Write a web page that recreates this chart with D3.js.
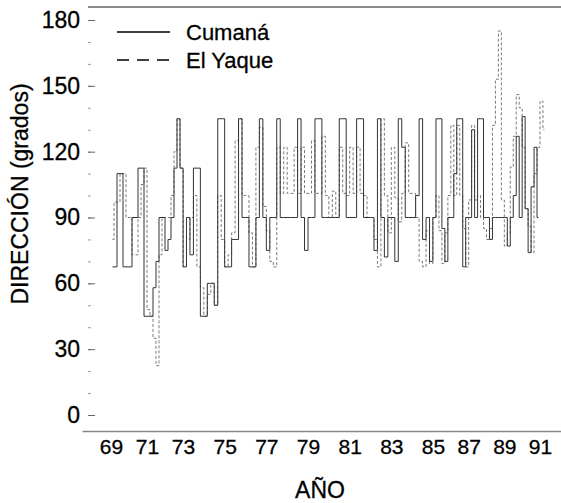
<!DOCTYPE html>
<html>
<head>
<meta charset="utf-8">
<script src="https://cdn.jsdelivr.net/npm/d3@7"></script>
<style>
  body { margin: 0; background: #fff; }
  svg { display: block; font-family: "Liberation Sans", Arial, sans-serif; }
  text { stroke: #000; stroke-width: 0.3px; }
</style>
</head>
<body>
<div id="chart"></div>
<script>
// wind direction, 6 readings per year starting in 1969
const startYear = 69
const perYear = 6
const yearTicks = [69, 71, 73, 75, 77, 79, 81, 83, 85, 87, 89, 91]
const dirTicks = [0, 30, 60, 90, 120, 150, 180]
const seriesNames = ["Cumaná", "El Yaque"]

const cumana = [
  67.5, 67.5, 110, 110, 67.5, 67.5,   // 69
  67.5, 90, 90, 112.5, 112.5, 45,     // 70
  45, 45, 58, 70, 90, 90,             // 71
  75, 80, 90, 112.5, 135, 112.5,      // 72
  67.5, 90, 73, 112.5, 112.5, 45,     // 73
  45, 60, 60, 50, 135, 135,           // 74
  67.5, 67.5, 80, 80, 135, 90,        // 75
  90, 67.5, 67.5, 90, 135, 90,        // 76
  75, 90, 90, 135, 90, 90,            // 77
  90, 90, 90, 135, 90, 75,            // 78
  90, 90, 135, 135, 90, 90,           // 79
  90, 90, 90, 135, 135, 90,           // 80
  90, 90, 135, 135, 90, 90,           // 81
  90, 75, 135, 90, 72, 90,            // 82
  90, 70, 135, 122, 90, 90,           // 83
  90, 100, 135, 80, 90, 70,           // 84
  90, 135, 135, 85, 70, 90,           // 85
  90, 110, 135, 135, 67.5, 90,        // 86
  90, 130, 90, 135, 135, 90,          // 87
  90, 80, 90, 90, 90, 90,             // 88
  90, 77, 90, 100, 127, 90,           // 89
  136, 94, 74, 104, 122, 90           // 90
]

const elYaque = [
  80, 97, 97, 110, 110, 90,           // 69
  90, 73, 73, 90, 105, 112.5,         // 70
  48, 45, 35, 22.5, 73, 90,           // 71
  90, 90, 100, 120, 135, 112.5,       // 72
  67.5, 80, 90, 100, 67.5, 58,        // 73
  45, 55, 60, 50, 100, 80,            // 74
  67.5, 73, 83, 125, 135, 100,        // 75
  100, 83, 67.5, 122, 131, 95,        // 76
  84, 70, 67.5, 122, 101, 122,        // 77
  101, 101, 122, 101, 122, 101,       // 78
  101, 125, 101, 101, 127, 100,       // 79
  90, 102, 90, 122, 101, 100,         // 80
  122, 101, 122, 101, 100, 90,        // 81
  90, 80, 67.5, 135, 100, 83,         // 82
  122, 99, 88, 101, 124, 101,         // 83
  101, 90, 70, 67.5, 84, 69,          // 84
  90, 100, 84, 69, 83, 100,           // 85
  132, 100, 132, 100, 85, 67.5,       // 86
  98, 132, 98, 100, 90, 85,           // 87
  80, 85, 132, 153, 175, 98,          // 88
  77, 83, 113, 127, 146, 140,         // 89
  122, 94, 86, 74, 110, 122,          // 90
  143, 130                            // 91
]

const width = 561
const height = 503

const svg = d3.select("#chart").append("svg")
  .attr("width", width)
  .attr("height", height)

// the printed year axis is not evenly spaced, so calibrate it piecewise
const x = d3.scaleLinear()
  .domain([67.4, 69, 73, 85, 91, 92.2])
  .range([82, 111, 183, 433, 540, 561])

const y = d3.scaleLinear()
  .domain([0, 180])
  .range([415, 20])

const toPoints = arr => arr.map((v, i) => [startYear + (i + 0.5) / perYear, v])

const line = d3.line()
  .x(d => x(d[0]))
  .y(d => y(d[1]))
  .curve(d3.curveStep)

// top frame line
svg.append("line")
  .attr("x1", 88).attr("x2", width)
  .attr("y1", 7).attr("y2", 7)
  .style("stroke", "#666")
  .style("stroke-width", 1.5)

// x axis
svg.append("g")
  .attr("transform", "translate(0,431)")
  .call(d3.axisBottom(x).tickValues(yearTicks).tickSize(0).tickSizeOuter(0).tickPadding(8))
  .call(g => g.select(".domain").style("stroke", "#888").style("stroke-width", 1.5))
  .selectAll("text")
  .style("font-size", "21px")
  .style("fill", "#000")

// y axis ticks (inside) and labels
svg.append("g")
  .attr("transform", "translate(88,0)")
  .call(d3.axisRight(y).tickValues(d3.range(0, 181, 10)).tickSize(3).tickFormat(""))
  .call(g => g.select(".domain").remove())
  .selectAll("line").style("stroke", "#999")

svg.append("g")
  .attr("transform", "translate(88,0)")
  .call(d3.axisRight(y).tickValues(dirTicks).tickSize(7).tickFormat(""))
  .call(g => g.select(".domain").remove())
  .selectAll("line").style("stroke", "#666")

svg.append("g")
  .attr("transform", "translate(88,0)")
  .call(d3.axisLeft(y).tickValues(dirTicks).tickSize(0).tickPadding(8))
  .call(g => g.select(".domain").remove())
  .selectAll("text")
  .style("font-size", "23px")
  .style("fill", "#000")

// series
svg.append("path")
  .datum(toPoints(elYaque))
  .attr("d", line)
  .style("fill", "none")
  .style("stroke", "#7a7a7a")
  .style("stroke-width", 1)
  .style("stroke-dasharray", "3,2")

svg.append("path")
  .datum(toPoints(cumana))
  .attr("d", line)
  .style("fill", "none")
  .style("stroke", "#333")
  .style("stroke-width", 1)

// legend
const legend = svg.append("g")
seriesNames.forEach((name, i) => {
  legend.append("line")
    .attr("x1", 117).attr("x2", 170)
    .attr("y1", 32 + i * 28).attr("y2", 32 + i * 28)
    .style("stroke", "#000")
    .style("stroke-width", 1.6)
    .style("stroke-dasharray", i ? "12,8" : null)
  legend.append("text")
    .attr("x", 186)
    .attr("y", 39.5 + i * 28)
    .style("font-size", "22px")
    .text(name)
})

// axis titles
svg.append("text")
  .attr("transform", "translate(28,194) rotate(-90)")
  .style("text-anchor", "middle")
  .style("font-size", "23px")
  .text("DIRECCIÓN (grados)")

svg.append("text")
  .attr("x", 320)
  .attr("y", 498)
  .style("text-anchor", "middle")
  .style("font-size", "23px")
  .text("AÑO")
</script>
</body>
</html>
